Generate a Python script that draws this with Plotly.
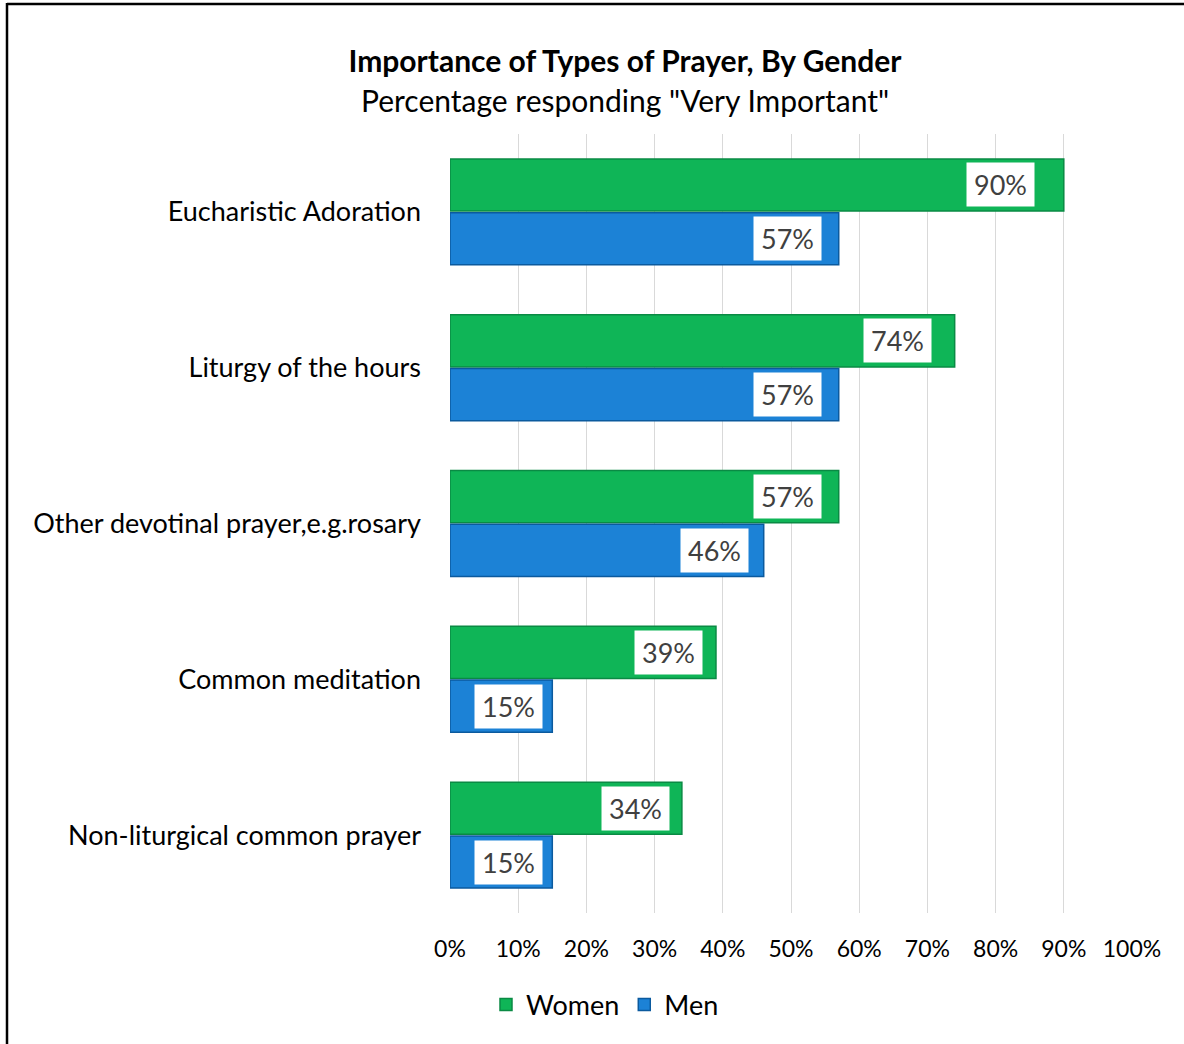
import plotly.graph_objects as go

categories = ["Eucharistic Adoration", "Liturgy of the hours", "Other devotinal prayer,e.g.rosary",
              "Common meditation", "Non-liturgical common prayer"]
women = [90, 74, 57, 39, 34]
men = [57, 57, 46, 15, 15]
x_ticks = [0, 10, 20, 30, 40, 50, 60, 70, 80, 90, 100]
x_tick_labels = [f"{v}%" for v in x_ticks]

FONT = "Lato, Carlito, Calibri, sans-serif"
W, H = 1184, 1044
L, R, T, B = 450, 52, 134, 131

fig = go.Figure()
fig.add_trace(go.Bar(name="Women", y=categories, x=women, orientation="h",
                     marker=dict(color="#0FB557", line=dict(color="#0A8A44", width=1.5))))
fig.add_trace(go.Bar(name="Men", y=categories, x=men, orientation="h",
                     marker=dict(color="#1C82D6", line=dict(color="#0B5A9E", width=1.5))))

annotations = []
for cat, w, m in zip(categories, women, men):
    for val, ys in ((w, 27), (m, -27)):
        annotations.append(dict(x=val, y=cat, xref="x", yref="y", text=f"{val}%",
                                showarrow=False, xanchor="right", yanchor="middle",
                                xshift=-(9 + val * val / 400), yshift=ys, bgcolor="white",
                                width=63, height=39, borderpad=2,
                                font=dict(family=FONT, size=27, color="#404040")))

plot_w = W - L - R
plot_h = H - T - B
annotations.append(dict(text="Percentage responding \"Very Important\"", xref="paper", yref="paper",
                        x=(625 - L) / plot_w, y=(H - B - 100) / plot_h, showarrow=False,
                        xanchor="center", yanchor="middle",
                        font=dict(family=FONT, size=30, color="#000000")))

px2x = lambda p: (p - L) / plot_w
px2y = lambda p: (H - B - p) / plot_h
shapes = [
    dict(type="line", xref="paper", yref="paper", x0=px2x(7), x1=px2x(7), y0=px2y(3), y1=px2y(1100),
         line=dict(color="black", width=2.5)),
    dict(type="line", xref="paper", yref="paper", x0=px2x(7), x1=px2x(1300), y0=px2y(4), y1=px2y(4),
         line=dict(color="black", width=2.5)),
]

fig.update_layout(
    width=W, height=H,
    margin=dict(l=L, r=R, t=T, b=B),
    paper_bgcolor="white", plot_bgcolor="white",
    barmode="group", bargap=0.31, bargroupgap=0.03,
    title=dict(text="<b>Importance of Types of Prayer, By Gender</b>", x=625 / W, xanchor="center",
               xref="container", y=1 - 61 / H, yref="container", yanchor="middle",
               font=dict(family=FONT, size=30, color="#000000")),
    xaxis=dict(range=[0, 100], tickvals=x_ticks, ticktext=x_tick_labels, showgrid=True,
               gridcolor="#D9D9D9", gridwidth=1.3, zeroline=False, showline=False, ticks="",
               ticklabelstandoff=20, tickfont=dict(family=FONT, size=23, color="#000000"),
               fixedrange=True),
    yaxis=dict(autorange="reversed", showgrid=False, zeroline=False, showline=False, ticks="",
               ticklabelstandoff=28, tickfont=dict(family=FONT, size=27, color="#000000")),
    legend=dict(orientation="h", xref="container", yref="container", x=605 / W, xanchor="center",
                y=1 - 1005 / H, yanchor="middle", font=dict(family=FONT, size=27, color="#000000"),
                itemwidth=30, traceorder="normal"),
    annotations=annotations,
    shapes=shapes,
)

fig.write_html("out.html", config={"displayModeBar": False},
               post_script="document.body.style.margin='0';")
